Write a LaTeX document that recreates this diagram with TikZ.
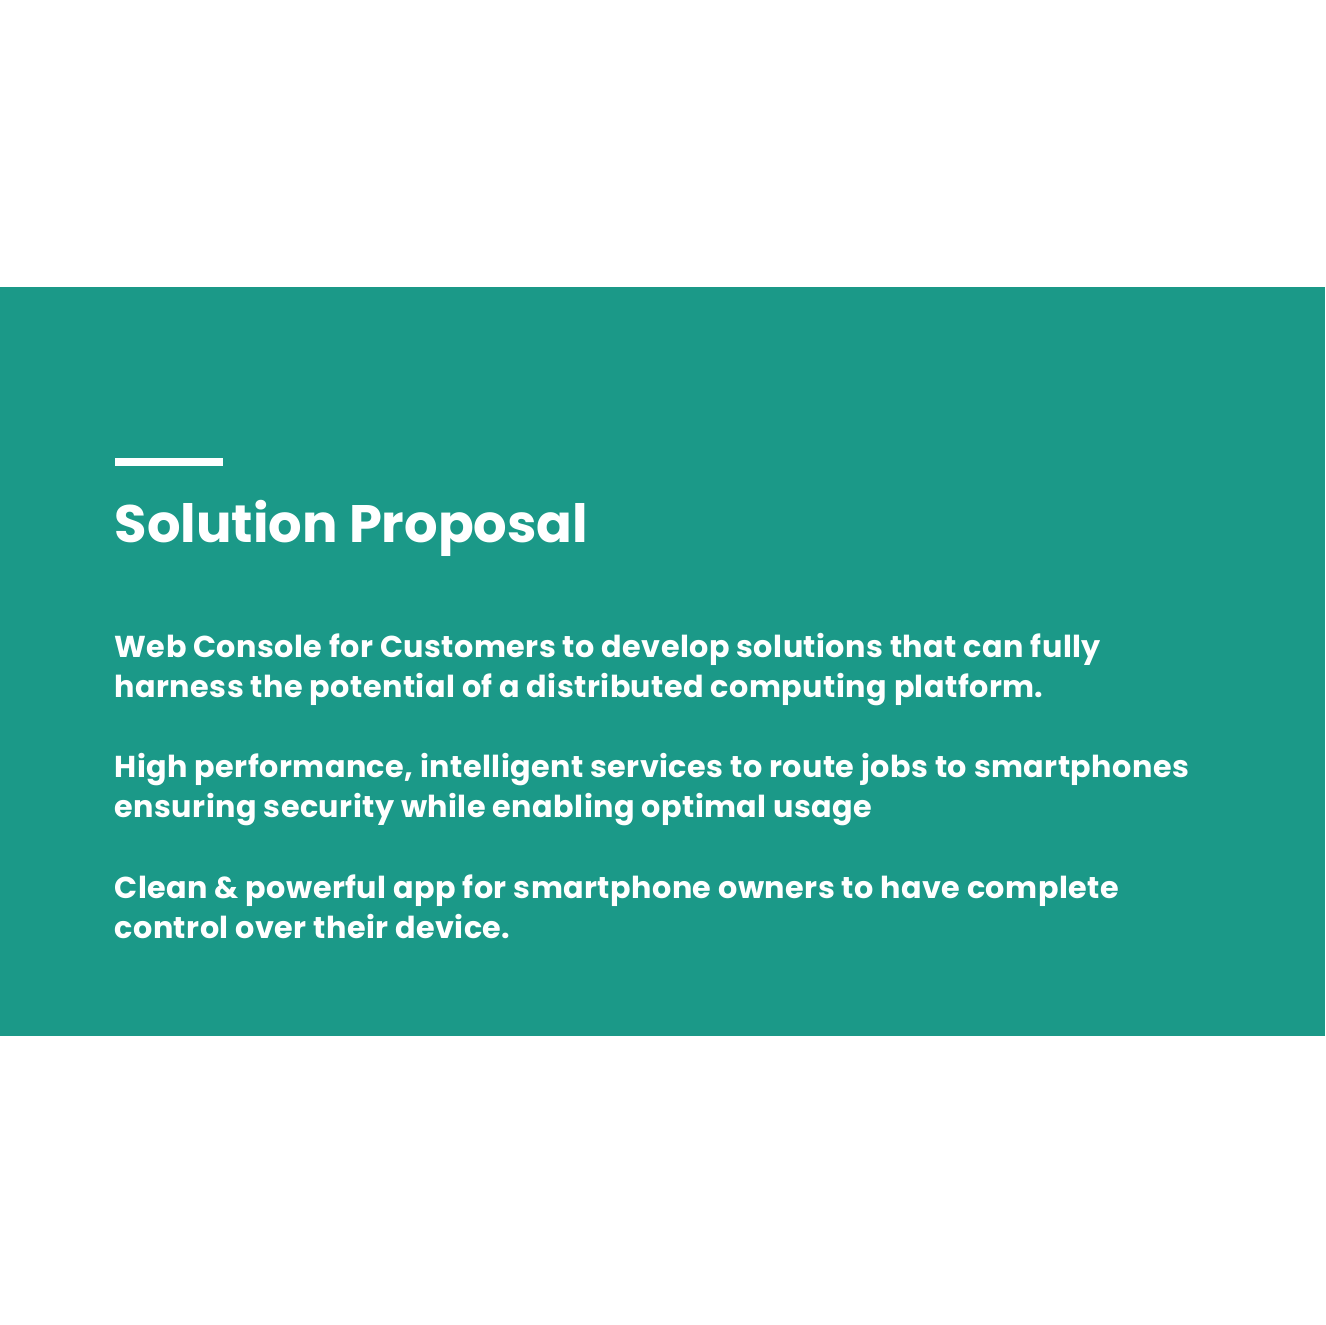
\documentclass[tikz,border=0pt]{standalone}
\usepackage{fontspec}
\setmainfont{Poppins}
\definecolor{slideteal}{RGB}{27,153,136}
\tikzstyle{slide_title}=[anchor=base west,inner sep=0pt,text=white,font=\fontsize{15}{18}\selectfont\bfseries]
\tikzstyle{slide_line}=[anchor=base west,inner sep=0pt,text=white,font=\fontsize{8.6}{11}\selectfont\bfseries\addfontfeature{LetterSpace=1.5}]

\begin{document}
\begin{tikzpicture}

\useasboundingbox (0,0) rectangle (13.25,-13.25);
\fill[white] (0,0) rectangle (13.25,-13.25);
\fill[slideteal] (0,-2.87) rectangle (13.25,-10.36);

\fill[white] (1.15,-4.58) rectangle (2.23,-4.66);

\node [slide_title] (title) at (1.14,-5.42) {Solution Proposal};

\node [slide_line] (console1) at (1.14,-6.57) {Web Console for Customers to develop solutions that can fully};
\node [slide_line] (console2) at (1.14,-6.97) {harness the potential of a distributed computing platform.};

\node [slide_line] (routing1) at (1.14,-7.77) {High performance, intelligent services to route jobs to smartphones};
\node [slide_line] (routing2) at (1.14,-8.17) {ensuring security while enabling optimal usage};

\node [slide_line] (app1) at (1.14,-8.98) {Clean \& powerful app for smartphone owners to have complete};
\node [slide_line] (app2) at (1.14,-9.38) {control over their device.};

\end{tikzpicture}
\end{document}
